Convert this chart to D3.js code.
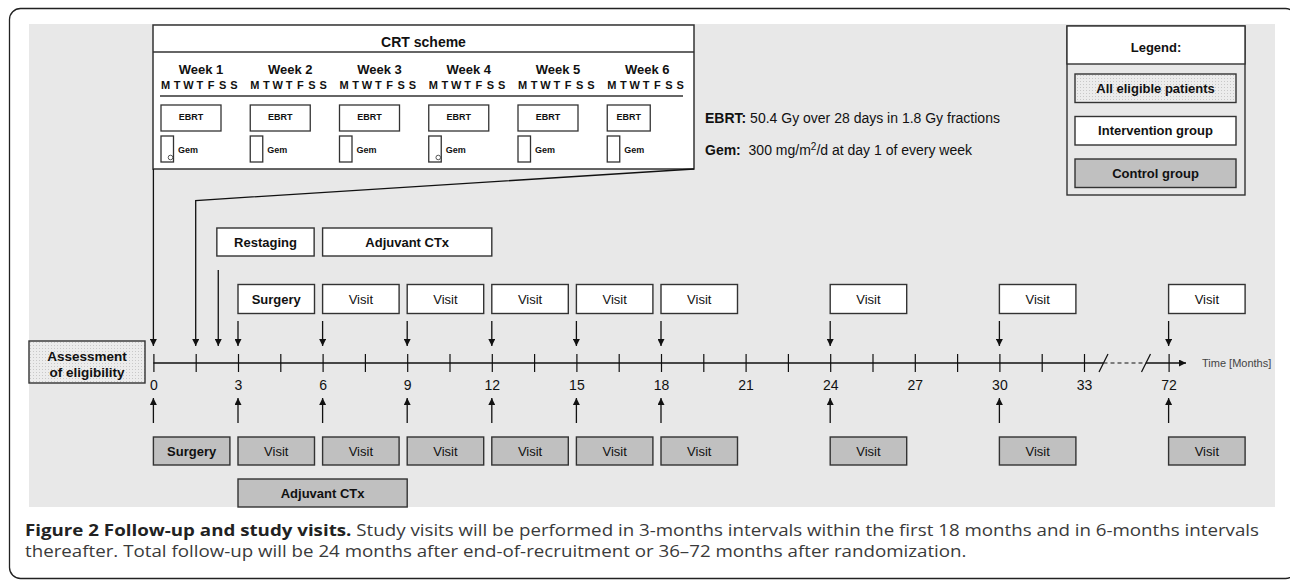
<!DOCTYPE html>
<html>
<head>
<meta charset="utf-8">
<script src="https://cdn.jsdelivr.net/npm/d3@7"></script>
<style>
  html, body { margin: 0; padding: 0; background: #fff; }
  svg { display: block; }
</style>
</head>
<body>
<svg id="chart"></svg>
<script>
// ---- data ----
const tickMonths = [0, 1.5, 3, 4.5, 6, 7.5, 9, 10.5, 12, 13.5, 15, 16.5, 18, 19.5, 21, 22.5, 24, 25.5, 27, 28.5, 30, 31.5, 33, 72];
const tickLabels = [0, 3, 6, 9, 12, 15, 18, 21, 24, 27, 30, 33, 72];
const interventionVisits = [6, 9, 12, 15, 18, 24, 30, 72];
const interventionArrows = [3, 6, 9, 12, 15, 18, 24, 30, 72];
const controlVisits = [3, 6, 9, 12, 15, 18, 24, 30, 72];
const controlArrows = [0, 3, 6, 9, 12, 15, 18, 24, 30, 72];
const interventionPhases = [
  { label: 'Restaging', start: 2.25, end: 5.7 },
  { label: 'Adjuvant CTx', start: 6, end: 12 }
];
const interventionSurgery = 3;
const controlSurgery = 0;
const controlPhases = [{ label: 'Adjuvant CTx', start: 3, end: 9 }];
const restagingArrow = 2.3;
const crtStart = 0;
const crtEnd = 1.5;

const weeks = ['Week 1', 'Week 2', 'Week 3', 'Week 4', 'Week 5', 'Week 6'];
const dayLetters = ['M', 'T', 'W', 'T', 'F', 'S', 'S'];
const ebrtFractions = [5, 5, 5, 5, 5, 3];
const gemMarked = [true, false, false, true, false, false];
const legendItems = ['All eligible patients', 'Intervention group', 'Control group'];

// ---- layout ----
const width = 1290, height = 581;
const axisY = 363;
const boxW = 76.5, boxH = 28;
const font = '"Liberation Sans", Arial, sans-serif';

const svg = d3.select('#chart')
  .attr('width', width)
  .attr('height', height)
  .style('font-family', font);

const defs = svg.append('defs');
const dots = defs.append('pattern')
  .attr('id', 'dots')
  .attr('width', 3).attr('height', 3)
  .attr('patternUnits', 'userSpaceOnUse');
dots.append('rect').attr('width', 3).attr('height', 3).attr('fill', '#ececec');
dots.append('rect').attr('width', 1).attr('height', 1).attr('fill', '#c8c8c8');

// filled arrowhead
defs.append('marker')
  .attr('id', 'head')
  .attr('viewBox', '0 0 10 10')
  .attr('refX', 10).attr('refY', 5)
  .attr('markerWidth', 9).attr('markerHeight', 7)
  .attr('markerUnits', 'userSpaceOnUse')
  .attr('orient', 'auto')
  .append('path')
  .attr('d', 'M0,0 L10,5 L0,10 Z')
  .attr('fill', '#111');

// outer frame + grey panel
svg.append('rect')
  .attr('x', 9.5).attr('y', 8.5)
  .attr('width', 1287).attr('height', 570)
  .attr('rx', 11)
  .attr('fill', 'none')
  .attr('stroke', '#222')
  .attr('stroke-width', 1.3);

svg.append('rect')
  .attr('x', 29).attr('y', 24)
  .attr('width', 1246).attr('height', 483)
  .attr('fill', '#e8e8e8');

// time scale, broken after 33 months
const x = d3.scaleLinear()
  .domain([0, 33, 72])
  .range([153.4, 1084, 1168.6]);

// ---- axis ----
const xAxis = d3.axisBottom(x)
  .tickValues(tickMonths)
  .tickSize(9)
  .tickPadding(8)
  .tickFormat(d => tickLabels.includes(d) ? d : '');

const gAxis = svg.append('g')
  .attr('transform', 'translate(0,' + axisY + ')')
  .call(xAxis);
gAxis.select('.domain').remove();
gAxis.selectAll('.tick line').attr('y1', -9).attr('stroke', '#111').attr('stroke-width', 1.2);
gAxis.selectAll('.tick text')
  .attr('fill', '#111')
  .style('font-size', '14px')
  .style('font-family', font);

const breakA = 1103.5, breakB = 1146;
svg.append('line')
  .attr('x1', x(0)).attr('x2', breakA)
  .attr('y1', axisY).attr('y2', axisY)
  .attr('stroke', '#111').attr('stroke-width', 1.3);
svg.append('line')
  .attr('x1', breakA).attr('x2', breakB)
  .attr('y1', axisY).attr('y2', axisY)
  .attr('stroke', '#111').attr('stroke-width', 1.2)
  .attr('stroke-dasharray', '4,3');
svg.append('line')
  .attr('x1', breakB).attr('x2', 1186)
  .attr('y1', axisY).attr('y2', axisY)
  .attr('stroke', '#111').attr('stroke-width', 1.3)
  .attr('marker-end', 'url(#head)');
[breakA, breakB].forEach(bx => {
  svg.append('line')
    .attr('x1', bx - 4.5).attr('y1', axisY + 9)
    .attr('x2', bx + 4.5).attr('y2', axisY - 9)
    .attr('stroke', '#111').attr('stroke-width', 1.2);
});

svg.append('text')
  .attr('x', 1202).attr('y', axisY + 4)
  .attr('fill', '#444')
  .style('font-size', '11px')
  .text('Time [Months]');

// ---- helpers ----
function box(g, x0, y0, w, h, label, fill, bold) {
  g.append('rect')
    .attr('x', x0).attr('y', y0)
    .attr('width', w).attr('height', h)
    .attr('fill', fill)
    .attr('stroke', '#333')
    .attr('stroke-width', 1.4);
  g.append('text')
    .attr('x', x0 + w / 2).attr('y', y0 + h / 2)
    .attr('dy', '0.36em')
    .attr('text-anchor', 'middle')
    .attr('fill', '#111')
    .style('font-size', '13px')
    .style('font-weight', bold ? 'bold' : 'normal')
    .text(label);
}

function arrow(x1, y1, x2, y2) {
  svg.append('line')
    .attr('x1', x1).attr('y1', y1)
    .attr('x2', x2).attr('y2', y2)
    .attr('stroke', '#111')
    .attr('stroke-width', 1.3)
    .attr('marker-end', 'url(#head)');
}

// ---- intervention row (above axis) ----
const gInt = svg.append('g');
interventionPhases.forEach(p => {
  box(gInt, x(p.start), 228, x(p.end) - x(p.start), boxH, p.label, '#fff', true);
});
box(gInt, x(interventionSurgery), 284.5, boxW, boxH + 1, 'Surgery', '#fff', true);
interventionVisits.forEach(m => {
  box(gInt, x(m), 284.5, boxW, boxH + 1, 'Visit', '#fff', false);
});
interventionArrows.forEach(m => arrow(x(m), 321, x(m), 346));
arrow(x(restagingArrow), 270, x(restagingArrow), 346);

// ---- control row (below axis) ----
const gCtl = svg.append('g');
box(gCtl, x(controlSurgery), 437, boxW, boxH, 'Surgery', '#c0c0c0', true);
controlVisits.forEach(m => {
  box(gCtl, x(m), 437, boxW, boxH, 'Visit', '#c0c0c0', false);
});
controlPhases.forEach(p => {
  box(gCtl, x(p.start), 479, x(p.end) - x(p.start), boxH, p.label, '#c0c0c0', true);
});
controlArrows.forEach(m => arrow(x(m), 423, x(m), 398));

// ---- assessment box ----
const gAss = svg.append('g');
gAss.append('rect')
  .attr('x', 29).attr('y', 341)
  .attr('width', 116).attr('height', 42)
  .attr('fill', 'url(#dots)')
  .attr('stroke', '#333').attr('stroke-width', 1.4);
['Assessment', 'of eligibility'].forEach((t, i) => {
  gAss.append('text')
    .attr('x', 87).attr('y', 356 + i * 16.5)
    .attr('dy', '0.36em')
    .attr('text-anchor', 'middle')
    .style('font-size', '13.5px')
    .style('font-weight', 'bold')
    .attr('fill', '#111')
    .text(t);
});

// ---- CRT scheme box ----
const crt = { x0: 153, y0: 25, x1: 694, y1: 169 };
const gCrt = svg.append('g');
gCrt.append('rect')
  .attr('x', crt.x0).attr('y', crt.y0)
  .attr('width', crt.x1 - crt.x0).attr('height', crt.y1 - crt.y0)
  .attr('fill', '#fff')
  .attr('stroke', '#333').attr('stroke-width', 1.5);
gCrt.append('line')
  .attr('x1', crt.x0).attr('x2', crt.x1)
  .attr('y1', 52).attr('y2', 52)
  .attr('stroke', '#333').attr('stroke-width', 1.4);
gCrt.append('text')
  .attr('x', (crt.x0 + crt.x1) / 2).attr('y', 42)
  .attr('dy', '0.36em')
  .attr('text-anchor', 'middle')
  .style('font-size', '14px').style('font-weight', 'bold')
  .attr('fill', '#111')
  .text('CRT scheme');

const dayX = d3.scaleLinear().domain([0, 42]).range([160, 695.5]);
const ebrtW = d3.scaleLinear().domain([3, 5]).range([43, 60]);
const letterPitch = 11.4;

weeks.forEach((w, k) => {
  const wx = dayX(k * 7);
  gCrt.append('text')
    .attr('x', wx + 41).attr('y', 69)
    .attr('dy', '0.36em')
    .attr('text-anchor', 'middle')
    .style('font-size', '13px').style('font-weight', 'bold')
    .attr('fill', '#111')
    .text(w);
  dayLetters.forEach((d, j) => {
    gCrt.append('text')
      .attr('x', wx + 5.6 + j * letterPitch).attr('y', 85)
      .attr('dy', '0.36em')
      .attr('text-anchor', 'middle')
      .style('font-size', '11px').style('font-weight', 'bold')
      .attr('fill', '#111')
      .text(d);
  });
  // EBRT block
  gCrt.append('rect')
    .attr('x', wx + 1).attr('y', 105)
    .attr('width', ebrtW(ebrtFractions[k])).attr('height', 26)
    .attr('fill', '#fff')
    .attr('stroke', '#333').attr('stroke-width', 1.3);
  gCrt.append('text')
    .attr('x', wx + 1 + ebrtW(ebrtFractions[k]) / 2).attr('y', 117)
    .attr('dy', '0.36em')
    .attr('text-anchor', 'middle')
    .style('font-size', '9px').style('font-weight', 'bold')
    .attr('fill', '#111')
    .text('EBRT');
  // Gem block
  gCrt.append('rect')
    .attr('x', wx + 1).attr('y', 136)
    .attr('width', 12.5).attr('height', 26)
    .attr('fill', '#fff')
    .attr('stroke', '#333').attr('stroke-width', 1.3);
  gCrt.append('text')
    .attr('x', wx + 18).attr('y', 150)
    .attr('dy', '0.36em')
    .style('font-size', '9px').style('font-weight', 'bold')
    .attr('fill', '#111')
    .text('Gem');
  if (gemMarked[k]) {
    gCrt.append('circle')
      .attr('cx', wx + 10.5).attr('cy', 157.5)
      .attr('r', 2.3)
      .attr('fill', 'none')
      .attr('stroke', '#444').attr('stroke-width', 0.9);
  }
});
gCrt.append('line')
  .attr('x1', 160).attr('x2', 683)
  .attr('y1', 96).attr('y2', 96)
  .attr('stroke', '#333').attr('stroke-width', 1.4);

// connectors from CRT box to time line
arrow(x(crtStart), crt.y1, x(crtStart), 346);
svg.append('path')
  .attr('d', 'M' + crt.x1 + ',' + crt.y1 + ' L' + x(crtEnd) + ',200.5 L' + x(crtEnd) + ',346')
  .attr('fill', 'none')
  .attr('stroke', '#111').attr('stroke-width', 1.3)
  .attr('marker-end', 'url(#head)');

// ---- EBRT / Gem notes ----
const note1 = svg.append('text').attr('x', 705).attr('y', 123)
  .style('font-size', '14px').attr('fill', '#111');
note1.append('tspan').style('font-weight', 'bold').text('EBRT:');
note1.append('tspan').text(' 50.4 Gy over 28 days in 1.8 Gy fractions');

const note2 = svg.append('text').attr('x', 705).attr('y', 155)
  .style('font-size', '14px').attr('fill', '#111');
note2.append('tspan').style('font-weight', 'bold').text('Gem:');
note2.append('tspan').text('\u00a0 300 mg/m');
note2.append('tspan').attr('dy', -5).style('font-size', '10px').text('2');
note2.append('tspan').attr('dy', 5).text('/d at day 1 of every week');

// ---- legend ----
const gLeg = svg.append('g');
gLeg.append('rect')
  .attr('x', 1067).attr('y', 26)
  .attr('width', 178).attr('height', 169)
  .attr('fill', '#e8e8e8')
  .attr('stroke', '#333').attr('stroke-width', 1.4);
gLeg.append('rect')
  .attr('x', 1067).attr('y', 26)
  .attr('width', 178).attr('height', 38)
  .attr('fill', '#fff')
  .attr('stroke', '#333').attr('stroke-width', 1.4);
gLeg.append('text')
  .attr('x', 1156).attr('y', 47)
  .attr('dy', '0.36em')
  .attr('text-anchor', 'middle')
  .style('font-size', '13px').style('font-weight', 'bold')
  .attr('fill', '#111')
  .text('Legend:');
const legFills = ['url(#dots)', '#fff', '#c0c0c0'];
const legY = d3.scalePoint().domain(legendItems).range([74, 159]);
legendItems.forEach((t, i) => {
  box(gLeg, 1075, legY(t), 161, 28.5, t, legFills[i], true);
});

// ---- caption ----
const capW = 1234;
const cap1 = svg.append('text').attr('x', 25).attr('y', 536)
  .style('font-family', '"Open Sans", "Noto Sans", sans-serif')
  .style('font-size', '15.5px').attr('fill', '#3a3a3a');
cap1.append('tspan').style('font-weight', 'bold').attr('fill', '#222')
  .text('Figure 2 Follow-up and study visits.');
cap1.append('tspan')
  .text(' Study visits will be performed in 3-months intervals within the first 18 months and in 6-months intervals');
const cap2 = svg.append('text').attr('x', 25).attr('y', 557)
  .style('font-family', '"Open Sans", "Noto Sans", sans-serif')
  .style('font-size', '15.5px').attr('fill', '#3a3a3a')
  .text('thereafter. Total follow-up will be 24 months after end-of-recruitment or 36\u201372 months after randomization.');

const len1 = cap1.node().getComputedTextLength();
const ratio = capW / len1;
cap1.attr('textLength', capW).attr('lengthAdjust', 'spacingAndGlyphs');
cap2.attr('textLength', cap2.node().getComputedTextLength() * ratio)
  .attr('lengthAdjust', 'spacingAndGlyphs');
</script>
</body>
</html>
